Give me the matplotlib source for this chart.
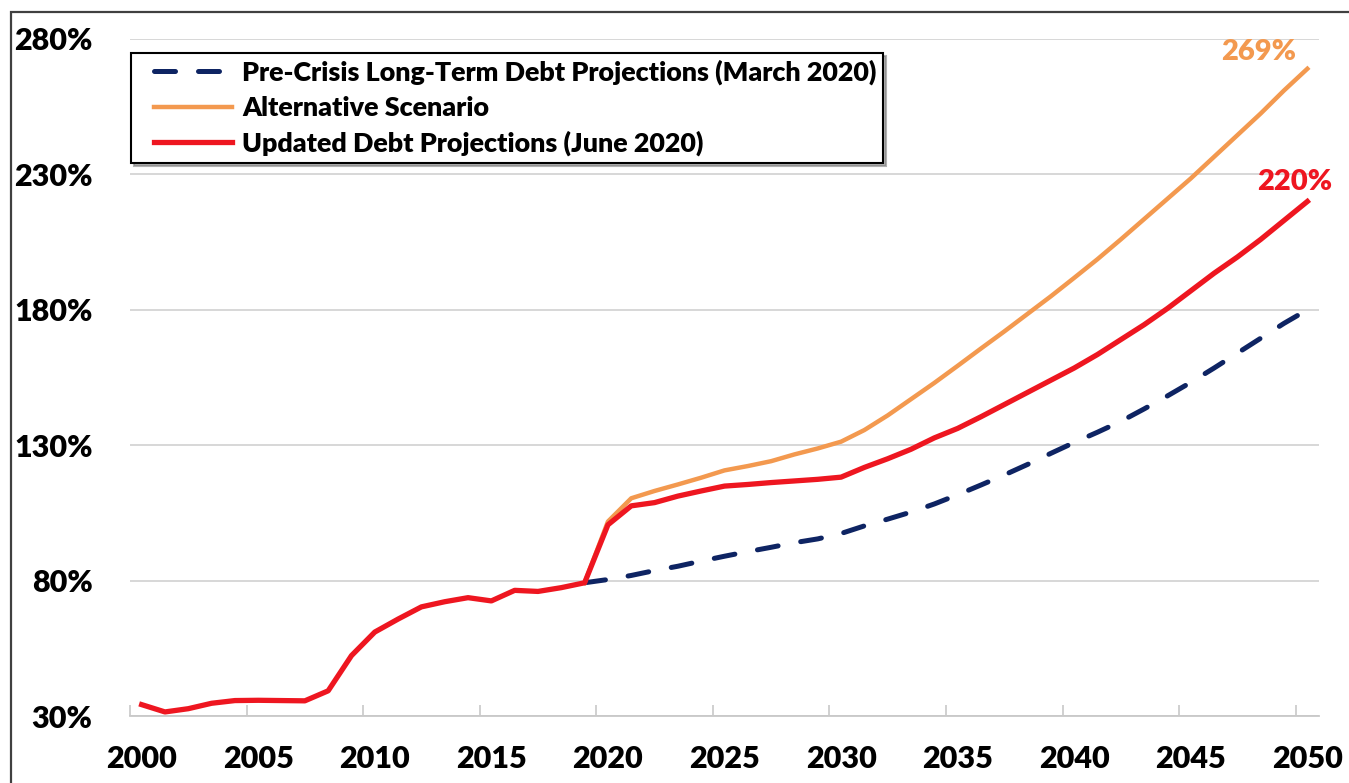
import matplotlib
matplotlib.use("Agg")
from matplotlib import pyplot as plt
from matplotlib.legend_handler import HandlerLine2D
from matplotlib.lines import Line2D
from matplotlib.patches import Rectangle

plt.rcParams['font.family'] = ['Lato', 'DejaVu Sans']
plt.rcParams['font.weight'] = 800

# data (debt held by the public, % of GDP)
years_updated = list(range(2000, 2051))
updated = [34.2, 31.5, 32.7, 34.7, 35.7, 35.8, 35.7, 35.6, 39.3, 52.3,
           61.0, 65.8, 70.3, 72.2, 73.7, 72.5, 76.4, 76.0, 77.4, 79.2,
           100.6, 107.6, 108.8, 111.2, 113.1, 114.9, 115.5, 116.2, 116.8, 117.4,
           118.2, 121.8, 125.0, 128.5, 132.7, 136.2, 140.5, 145.0, 149.5, 154.0,
           158.5, 163.5, 169.0, 174.5, 180.5, 187.0, 193.5, 199.5, 206.0, 213.0,
           220.0]

years_proj = list(range(2019, 2051))
alternative = [79.2, 101.8, 110.4, 113.1, 115.5, 118.0, 120.7, 122.3, 124.1, 126.6,
               128.8, 131.3, 135.6, 141.0, 147.0, 153.0, 159.3, 165.7, 172.0, 178.5,
               185.0, 191.8, 198.7, 206.0, 213.5, 221.0, 228.5, 236.5, 244.5, 252.5,
               261.0, 269.0]
pre_crisis = [79.2, 80.4, 81.9, 83.7, 85.3, 87.2, 89.0, 90.7, 92.3, 94.0,
              95.4, 97.4, 100.2, 102.7, 105.3, 108.3, 111.7, 115.3, 119.0, 122.9,
              127.0, 131.0, 134.8, 138.8, 143.4, 148.2, 153.2, 158.5, 164.0, 169.5,
              175.0, 180.0]

labels = ['Pre-Crisis Long-Term Debt Projections (March 2020)',
          'Alternative Scenario',
          'Updated Debt Projections (June 2020)']
c_navy, c_orange, c_red = '#0E2463', '#F3994F', '#EE1620'

yticks = [30, 80, 130, 180, 230, 280]
xticks = list(range(2000, 2051, 5))

fig = plt.figure(figsize=(13.49, 7.83), dpi=100)
ax = fig.add_axes([130/1349, 1 - 716/783, (1319 - 130)/1349, (716 - 39)/783])

ax.plot(years_proj, pre_crisis, color=c_navy, lw=3.6, dashes=(4.2, 4.6),
        dash_capstyle='round', label=labels[0], zorder=3)
ax.plot(years_proj, alternative, color=c_orange, lw=3.2, solid_joinstyle='round',
        label=labels[1], zorder=4)
ax.plot(years_updated, updated, color=c_red, lw=3.8, solid_joinstyle='round',
        label=labels[2], zorder=5)

# end labels
ax.annotate(f'{alternative[-1]:.0f}%', (years_proj[-1], alternative[-1]),
            xytext=(-35, 12), textcoords='offset points', ha='center', va='center',
            color=c_orange, fontsize=21)
ax.annotate(f'{updated[-1]:.0f}%', (years_updated[-1], updated[-1]),
            xytext=(-9, 14), textcoords='offset points', ha='center', va='center',
            color=c_red, fontsize=21)

ax.set_xlim(1999.5, 2050.5)
ax.set_ylim(30, 280)
ax.set_yticks(yticks)
ax.set_yticklabels([f'{v}%' for v in yticks])
ax.set_xticks(xticks)
ax.set_xticklabels([str(v) for v in xticks])
ax.set_xticks([x - 0.5 for x in xticks], minor=True)

ax.tick_params(axis='y', length=0, pad=27, labelsize=22)
ax.tick_params(axis='x', which='major', length=0, pad=21, labelsize=22)
ax.tick_params(axis='x', which='minor', direction='in', length=8, width=1.2,
               color='#C8C8C8')

ax.grid(axis='y', color='#D4D4D4', lw=1.3)
ax.set_axisbelow(True)
for s in ['left', 'right', 'top']:
    ax.spines[s].set_visible(False)
ax.spines['bottom'].set_color('#C8C8C8')
ax.spines['bottom'].set_linewidth(1.3)

leg = ax.legend(loc='upper left', bbox_to_anchor=(131/1349, 1 - 53/783),
                bbox_transform=fig.transFigure, fontsize=19.4, frameon=True,
                fancybox=False, shadow={'color': '#7F7F7F', 'alpha': 0.6},
                borderpad=0.25, labelspacing=0.4, handlelength=3.5,
                handletextpad=0.37, borderaxespad=0,
                handler_map={Line2D: HandlerLine2D(xpad=0.6)})
leg.get_frame().set_edgecolor('black')
leg.get_frame().set_linewidth(1.5)

# chart area border
fig.patches.append(Rectangle((11/1349, -0.05), 1.1, 1.05 - 12/783,
                             transform=fig.transFigure, fill=False,
                             edgecolor='#404040', lw=1.6))

fig.savefig('out.png', dpi=100)
